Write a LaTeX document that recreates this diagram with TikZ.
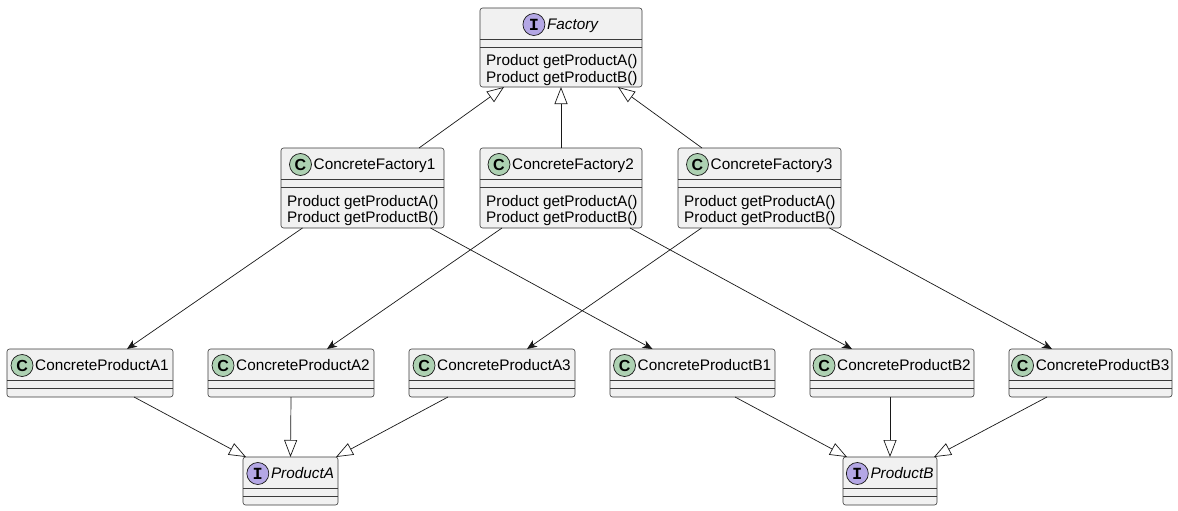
\documentclass[tikz,border=0pt]{standalone}
\usepackage{fontspec}
\setmainfont{Liberation Sans}
\newfontfamily\markmono{Liberation Mono}
\usetikzlibrary{arrows.meta, positioning, calc}

\definecolor{boxfill}{HTML}{F1F1F1}
\definecolor{boxline}{HTML}{181818}
\definecolor{classgreen}{HTML}{ADD1B2}
\definecolor{ifacepurple}{HTML}{B4A7E5}

\tikzset{
    classbox/.style={draw=boxline!85, fill=boxfill, line width=0.6pt,
        rounded corners=2.5pt, outer sep=0pt, inner sep=0pt},
    sepline/.style={draw=boxline!85, line width=0.6pt},
    titletext/.style={inner sep=0pt, anchor=base,
        font=\fontsize{15.3}{18}\selectfont},
    methodtext/.style={inner sep=0pt, anchor=base west,
        font=\fontsize{15.3}{18}\selectfont},
    markC/.style={circle, draw=boxline, line width=0.7pt, fill=classgreen,
        minimum size=22pt, inner sep=0pt,
        font=\fontsize{16}{16}\selectfont\bfseries},
    markI/.style={circle, draw=boxline, line width=0.7pt, fill=ifacepurple,
        minimum size=22pt, inner sep=0pt,
        font=\fontsize{17}{16}\selectfont\markmono\bfseries},
    gen/.style={line width=0.7pt, draw=boxline,
        -{Triangle[length=17pt, width=13pt, fill=white]}},
    assoc/.style={line width=0.7pt, draw=boxline,
        -{Stealth[length=10pt, width=8pt, inset=3pt]}}
}

% class box: name, centre, width, height, mark letter, title
\newcommand{\umlclass}[6]{%
    \node[classbox, minimum width=#3pt, minimum height=#4pt] (#1) at (#2) {};
    \draw[sepline] ([yshift=-31.5pt]#1.north west) -- ([yshift=-31.5pt]#1.north east);
    \draw[sepline] ([yshift=-39.5pt]#1.north west) -- ([yshift=-39.5pt]#1.north east);
    \node[titletext] (#1-title) at ([xshift=12pt, yshift=-21.5pt]#1.north) {#6};
    \node[mark#5] (#1-mark) at ($(#1-title.west |- #1.north)+(-13,16.5)$) {#5};
}

% the two factory methods
\newcommand{\umlmethods}[1]{%
    \node[methodtext] (#1-ma) at ([xshift=6pt, yshift=-58pt]#1.north west) {Product getProductA()};
    \node[methodtext] (#1-mb) at ([xshift=6pt, yshift=-74pt]#1.north west) {Product getProductB()};
}

\begin{document}
\begin{tikzpicture}[x=1pt, y=-1pt]
    \useasboundingbox[fill=white] (0,0) rectangle (1178,511);

    % factories
    \umlclass{factory}{561,47.5}{162}{79}{I}{\textit{Factory}}
    \umlmethods{factory}
    \umlclass{cfone}{362.5,188}{163}{80}{C}{ConcreteFactory1}
    \umlmethods{cfone}
    \umlclass{cftwo}{561,188}{162}{80}{C}{ConcreteFactory2}
    \umlmethods{cftwo}
    \umlclass{cfthree}{759.5,188}{163}{80}{C}{ConcreteFactory3}
    \umlmethods{cfthree}

    % concrete products
    \umlclass{pa1}{90,373}{166}{48}{C}{ConcreteProductA1}
    \umlclass{pa2}{291,373}{166}{48}{C}{ConcreteProductA2}
    \umlclass{pa3}{492,373}{166}{48}{C}{ConcreteProductA3}
    \umlclass{pb1}{692.5,373}{165}{48}{C}{ConcreteProductB1}
    \umlclass{pb2}{892,373}{164}{48}{C}{ConcreteProductB2}
    \umlclass{pb3}{1090.5,373}{163}{48}{C}{ConcreteProductB3}

    % product interfaces
    \umlclass{producta}{290.5,481}{95}{48}{I}{\textit{ProductA}}
    \umlclass{productb}{890,481}{94}{48}{I}{\textit{ProductB}}

    % realisation of Factory
    \draw[gen] ([xshift=56.5pt]cfone.north) -- ([xshift=-57pt]factory.south);
    \draw[gen] (cftwo.north) -- (factory.south);
    \draw[gen] ([xshift=-57.5pt]cfthree.north) -- ([xshift=57pt]factory.south);

    % factories create products
    \draw[assoc] ([xshift=-60pt]cfone.south) -- ([xshift=37pt]pa1.north);
    \draw[assoc] ([xshift=68pt]cfone.south) -- ([xshift=-40pt]pb1.north);
    \draw[assoc] ([xshift=-59pt]cftwo.south) -- ([xshift=36pt]pa2.north);
    \draw[assoc] ([xshift=69pt]cftwo.south) -- ([xshift=-40pt]pb2.north);
    \draw[assoc] ([xshift=-58pt]cfthree.south) -- ([xshift=35pt]pa3.north);
    \draw[assoc] ([xshift=70pt]cfthree.south) -- ([xshift=-38.5pt]pb3.north);

    % realisation of the products
    \draw[gen] ([xshift=44pt]pa1.south) -- ([xshift=-44.5pt]producta.north);
    \draw[gen] (pa2.south) -- (producta.north);
    \draw[gen] ([xshift=-44pt]pa3.south) -- ([xshift=45.5pt]producta.north);
    \draw[gen] ([xshift=42.5pt]pb1.south) -- ([xshift=-43pt]productb.north);
    \draw[gen] ([xshift=-2pt]pb2.south) -- (productb.north);
    \draw[gen] ([xshift=-43.5pt]pb3.south) -- ([xshift=44pt]productb.north);
\end{tikzpicture}
\end{document}
